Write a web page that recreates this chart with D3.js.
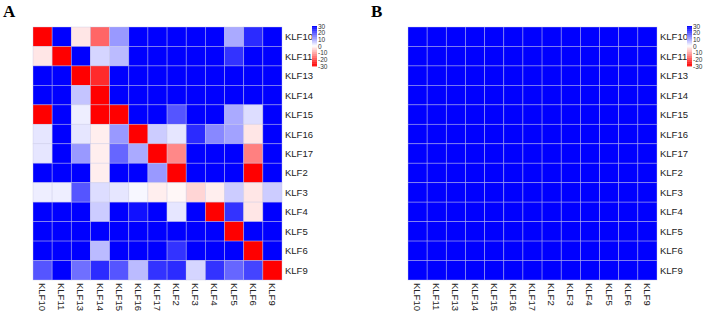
<!DOCTYPE html>
<html>
<head>
<meta charset="utf-8">
<script src="https://cdn.jsdelivr.net/npm/d3@7"></script>
<style>
  html,body{margin:0;padding:0;background:#fff;}
  svg{display:block;font-family:"Liberation Sans",Arial,sans-serif;}
</style>
</head>
<body>
<div id="chart"></div>
<script>
const genes=["KLF10","KLF11","KLF13","KLF14","KLF15","KLF16","KLF17","KLF2","KLF3","KLF4","KLF5","KLF6","KLF9"];
// panel A values (blue = positive, red = negative, clipped at +/-30)
const valuesA=[
  [-30,30,-3,-18,12,30,30,30,30,30,10,25,30],
  [-3,-30,30,5,8,30,30,30,30,30,24,30,30],
  [30,30,-30,-25,30,30,30,30,30,30,30,30,30],
  [30,30,7,-30,30,30,30,30,30,30,30,30,30],
  [-30,30,2,-30,-30,30,30,20,30,30,10,4,30],
  [3,30,3,-2,12,-30,6,3,25,14,11,-3,30],
  [3,30,12,-2,18,10,-30,-14,30,30,30,-15,30],
  [30,30,30,-2,30,30,12,-30,30,30,30,-30,30],
  [2,2,20,4,3,1,-2,-1,-5,-2,6,-3,6],
  [30,30,30,6,30,28,30,3,30,-30,24,-3,30],
  [30,30,30,30,30,30,30,30,30,30,-30,30,30],
  [30,30,30,8,30,30,30,24,30,30,30,-30,30],
  [20,30,17,25,20,8,24,25,5,24,18,22,-30]
];
const valuesB=[
  [30,30,30,30,30,30,30,30,30,30,30,30,30],
  [30,30,30,30,30,30,30,30,30,30,30,30,30],
  [30,30,30,30,30,30,30,30,30,30,30,30,30],
  [30,30,30,30,30,30,30,30,30,30,30,30,30],
  [30,30,30,30,30,30,30,30,30,30,30,30,30],
  [30,30,30,30,30,30,30,30,30,30,30,30,30],
  [30,30,30,30,30,30,30,30,30,30,30,30,30],
  [30,30,30,30,30,30,30,30,30,30,30,30,30],
  [30,30,30,30,30,30,30,30,30,30,30,30,30],
  [30,30,30,30,30,30,30,30,30,30,30,30,30],
  [30,30,30,30,30,30,30,30,30,30,30,30,30],
  [30,30,30,30,30,30,30,30,30,30,30,30,30],
  [30,30,30,30,30,30,30,30,30,30,30,30,30]
];
const legendTicks=[30,20,10,0,-10,-20,-30];
const panels=[{label:"A",values:valuesA,x0:33},{label:"B",values:valuesB,x0:408}];

const W=709,H=311;
const svg=d3.select("#chart").append("svg").attr("width",W).attr("height",H);
const color=d3.scaleLinear().domain([-30,0,30]).range(["#ff0000","#ffffff","#0000ff"]).clamp(true);
const top0=27,gw=249,gh=253;

panels.forEach(p=>{
  const g=svg.append("g");
  const x=d3.scaleBand().domain(genes).range([p.x0,p.x0+gw]);
  const y=d3.scaleBand().domain(genes).range([top0,top0+gh]);
  const cells=[];
  p.values.forEach((row,i)=>row.forEach((v,j)=>cells.push({r:genes[i],c:genes[j],v})));
  g.selectAll("rect.cell").data(cells).join("rect").attr("class","cell")
    .attr("x",d=>x(d.c)).attr("y",d=>y(d.r))
    .attr("width",x.bandwidth()).attr("height",y.bandwidth())
    .attr("fill",d=>color(d.v))
    .attr("stroke","rgba(200,200,230,0.55)").attr("stroke-width",0.7);
  // row labels
  g.selectAll("text.row").data(genes).join("text").attr("class","row")
    .attr("x",p.x0+gw+3).attr("y",d=>y(d)+y.bandwidth()/2+3.5)
    .attr("font-size",9.5).attr("fill","#222").text(d=>d);
  // column labels
  g.selectAll("text.col").data(genes).join("text").attr("class","col")
    .attr("transform",d=>`translate(${x(d)+x.bandwidth()/2-3.5},${top0+gh+3}) rotate(90)`)
    .attr("font-size",9.5).attr("fill","#222").text(d=>d);
  // panel letter
  svg.append("text").attr("x",p.x0-30+(p.label==="B"?-7:0)).attr("y",17)
    .attr("font-family","'Liberation Serif','Times New Roman',serif").attr("font-weight","bold")
    .attr("font-size",17).text(p.label);
  // legend
  const lx=p.x0+gw+30, ly=26, lh=40;
  const ls=d3.scaleLinear().domain([30,-30]).range([ly,ly+lh]);
  const steps=d3.range(60);
  g.selectAll("rect.leg").data(steps).join("rect").attr("class","leg")
    .attr("x",lx).attr("y",d=>ly+d*lh/60).attr("width",5).attr("height",lh/60+0.4)
    .attr("fill",d=>color(ls.invert(ly+(d+0.5)*lh/60)));
  g.selectAll("text.leg").data(legendTicks).join("text").attr("class","leg")
    .attr("x",lx+6).attr("y",d=>ls(d)+2.5).attr("font-size",6.5).attr("fill","#333").text(d=>d);
});
</script>
</body>
</html>
